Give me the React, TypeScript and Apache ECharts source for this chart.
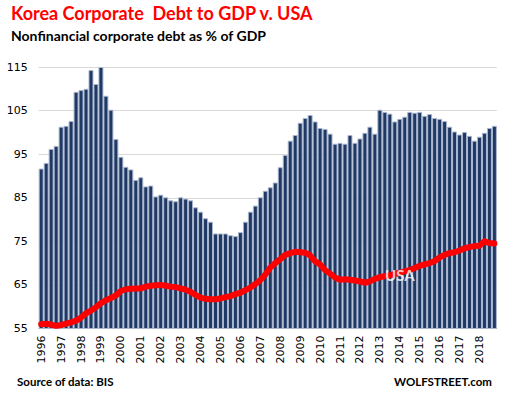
import React, { useEffect, useRef } from "react";
import * as echarts from "echarts";

const years = [1996, 1997, 1998, 1999, 2000, 2001, 2002, 2003, 2004, 2005, 2006, 2007, 2008, 2009, 2010, 2011, 2012, 2013, 2014, 2015, 2016, 2017, 2018];
const quarters = ["Q1", "Q2", "Q3", "Q4"];

const koreaDebt = [
  91.7, 93.0, 96.2, 96.9,
  101.3, 101.5, 102.6, 109.3,
  109.7, 110.0, 114.3, 111.1,
  115.0, 108.4, 105.2, 98.5,
  94.4, 92.1, 91.5, 89.1,
  89.7, 87.6, 87.8, 85.3,
  85.7, 85.1, 84.4, 84.2,
  85.1, 84.8, 84.4, 82.8,
  81.8, 80.3, 79.5, 76.8,
  76.8, 76.8, 76.4, 76.2,
  77.1, 79.5, 81.8, 83.2,
  85.1, 86.6, 87.4, 88.5,
  92.0, 94.8, 98.1, 99.4,
  102.2, 103.3, 104.0, 102.5,
  101.0, 100.8, 99.7, 97.4,
  97.6, 97.4, 99.4, 97.6,
  98.6, 99.9, 101.3, 99.7,
  105.2, 104.7, 104.3, 102.5,
  103.1, 103.6, 104.7, 104.5,
  104.7, 103.8, 104.2, 103.3,
  103.1, 102.6, 101.3, 100.2,
  99.5, 100.1, 99.2, 98.1,
  99.0, 99.9, 101.0, 101.5,
];

const usaDebt = [
  56.0, 56.1, 55.9, 55.6,
  55.8, 56.1, 56.4, 56.8,
  57.5, 58.5, 59.1, 59.9,
  60.8, 61.5, 62.0, 62.6,
  63.6, 64.0, 64.1, 64.2,
  64.2, 64.6, 64.8, 64.9,
  65.0, 64.8, 64.6, 64.5,
  64.2, 63.9, 63.4, 62.7,
  62.1, 61.8, 61.7, 61.7,
  61.9, 62.2, 62.4, 62.9,
  63.2, 63.8, 64.4, 65.2,
  66.1, 67.4, 69.0, 70.0,
  70.9, 71.9, 72.3, 72.6,
  72.5, 72.4, 71.8, 70.4,
  69.7, 68.4, 67.6, 66.7,
  66.2, 66.3, 66.2, 66.0,
  65.8, 65.5, 65.8, 66.4,
  66.8, 67.0, 67.2, 67.5,
  67.8, 68.1, 68.4, 68.9,
  69.4, 69.7, 70.0, 70.5,
  71.3, 71.9, 72.3, 72.5,
  72.9, 73.4, 73.7, 73.9,
  74.0, 75.0, 74.6, 74.5,
];

const yTicks = [55, 65, 75, 85, 95, 105, 115];
const usaLabelIndex = 72;

const categories: string[] = [];
years.forEach((y) => quarters.forEach((q) => categories.push(`${y} ${q}`)));

export default function App() {
  const ref = useRef<HTMLDivElement>(null);
  useEffect(() => {
    if (!ref.current) return;
    const chart = echarts.init(ref.current, undefined, { renderer: "svg" });
    chart.setOption({
      animation: false,
      backgroundColor: "#ffffff",
      grid: { left: 38.7, right: 10.1, top: 67, bottom: 69.5, containLabel: false },
      xAxis: {
        type: "category",
        data: categories,
        axisLine: { show: true, lineStyle: { color: "#c8cfdc", width: 1 } },
        axisTick: { show: false },
        axisLabel: {
          interval: 3,
          rotate: 90,
          margin: 7,
          color: "#000000",
          fontFamily: "DejaVu Sans",
          fontSize: 11,
          formatter: (v: string) => v.split(" ")[0],
        },
      },
      yAxis: {
        type: "value",
        min: yTicks[0],
        max: yTicks[yTicks.length - 1],
        interval: 10,
        axisLine: { show: false },
        axisTick: { show: false },
        splitLine: { show: true, lineStyle: { color: "#d9d9d9", width: 1 } },
        axisLabel: {
          color: "#000000",
          fontFamily: "DejaVu Sans",
          fontSize: 11,
          margin: 11,
        },
      },
      series: [
        {
          type: "bar",
          name: "Korea",
          data: koreaDebt,
          barCategoryGap: "0%",
          itemStyle: { color: "#1f3864", borderColor: "#aab7cf", borderWidth: 1 },
        },
        {
          type: "line",
          name: "USA",
          data: usaDebt,
          symbol: "none",
          showSymbol: false,
          lineStyle: { color: "#ff0000", width: 6, cap: "round", join: "round" },
          z: 5,
        },
        {
          type: "scatter",
          name: "USA label",
          data: [[categories[usaLabelIndex], usaDebt[usaLabelIndex]]],
          symbolSize: 0,
          silent: true,
          z: 10,
          label: {
            show: true,
            formatter: "USA",
            position: "inside",
            offset: [0, 2],
            color: "#ffffff",
            fontFamily: "Lato",
            fontWeight: "bold",
            fontSize: 15,
          },
        },
      ],
      graphic: [
        {
          type: "text",
          left: 11,
          top: 4,
          style: {
            text: "Korea Corporate  Debt to GDP v. USA",
            fill: "#ff0000",
            font: "bold 18px Lato",
          },
        },
        {
          type: "text",
          left: 11,
          top: 28,
          style: {
            text: "Nonfinancial corporate debt as % of GDP",
            fill: "#000000",
            font: "bold 14px Lato",
          },
        },
        {
          type: "text",
          left: 17,
          top: 375,
          style: {
            text: "Source of data: BIS",
            fill: "#000000",
            font: "bold 11.5px Lato",
          },
        },
        {
          type: "text",
          right: 15,
          top: 375,
          style: {
            text: "WOLFSTREET.com",
            fill: "#000000",
            font: "bold 11.5px Lato",
          },
        },
      ],
    });
    return () => chart.dispose();
  }, []);
  return (
    <div
      ref={ref}
      style={{ position: "fixed", left: 0, top: 0, width: 507, height: 398 }}
    />
  );
}
